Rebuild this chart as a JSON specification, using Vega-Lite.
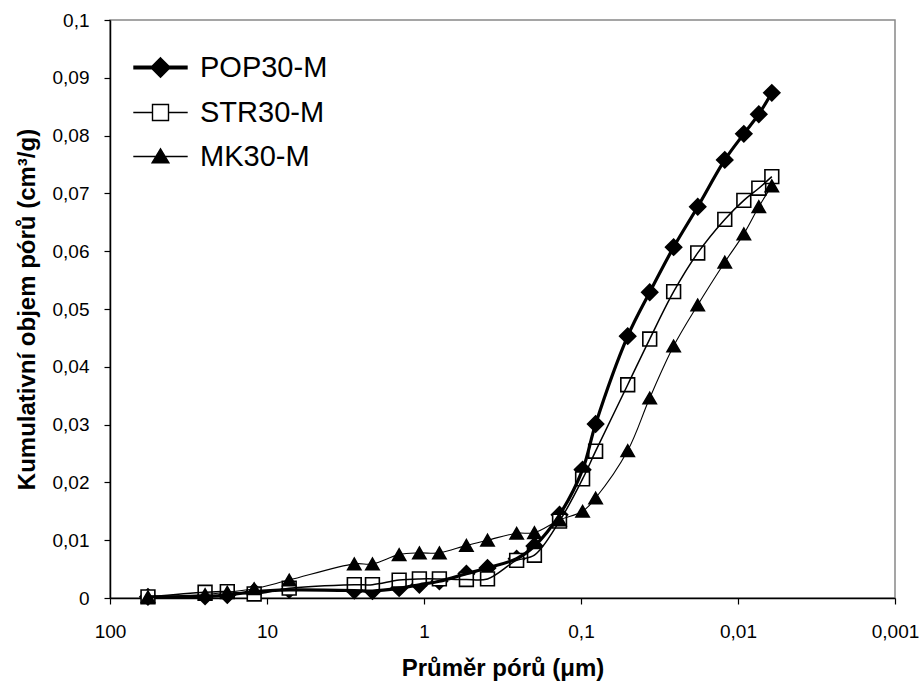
{
  "$schema": "https://vega.github.io/schema/vega-lite/v6.json",
  "width": 785,
  "height": 578,
  "autosize": "none",
  "padding": {"left": 110, "top": 20, "right": 27, "bottom": 91},
  "background": "white",
  "config": {
    "view": {"stroke": "#888888", "strokeWidth": 1.5},
    "font": "Liberation Sans",
    "axis": {"domainColor": "black", "tickColor": "black", "labelColor": "black", "titleColor": "black", "grid": false, "domainWidth": 1.5, "tickWidth": 1.2, "labelFont": "Liberation Sans", "titleFont": "Liberation Sans"}
  },
  "data": {"values": [
    {"series": "POP30-M", "d": 57.3, "v": 0.0002},
    {"series": "POP30-M", "d": 24.8, "v": 0.0003},
    {"series": "POP30-M", "d": 17.9, "v": 0.0005},
    {"series": "POP30-M", "d": 12.07, "v": 0.0011},
    {"series": "POP30-M", "d": 7.22, "v": 0.0014},
    {"series": "POP30-M", "d": 2.78, "v": 0.0013},
    {"series": "POP30-M", "d": 2.13, "v": 0.0012},
    {"series": "POP30-M", "d": 1.44, "v": 0.0017},
    {"series": "POP30-M", "d": 1.07, "v": 0.0023},
    {"series": "POP30-M", "d": 0.798, "v": 0.0029},
    {"series": "POP30-M", "d": 0.537, "v": 0.0042},
    {"series": "POP30-M", "d": 0.394, "v": 0.0052},
    {"series": "POP30-M", "d": 0.257, "v": 0.0068},
    {"series": "POP30-M", "d": 0.198, "v": 0.009},
    {"series": "POP30-M", "d": 0.137, "v": 0.0144},
    {"series": "POP30-M", "d": 0.0977, "v": 0.0222},
    {"series": "POP30-M", "d": 0.0807, "v": 0.0301},
    {"series": "POP30-M", "d": 0.0504, "v": 0.0453},
    {"series": "POP30-M", "d": 0.0365, "v": 0.0529},
    {"series": "POP30-M", "d": 0.0257, "v": 0.0607},
    {"series": "POP30-M", "d": 0.01805, "v": 0.0677},
    {"series": "POP30-M", "d": 0.01214, "v": 0.0758},
    {"series": "POP30-M", "d": 0.00918, "v": 0.0803},
    {"series": "POP30-M", "d": 0.00737, "v": 0.0837},
    {"series": "POP30-M", "d": 0.00609, "v": 0.0874},
    {"series": "STR30-M", "d": 57.3, "v": 0.0002},
    {"series": "STR30-M", "d": 24.8, "v": 0.001},
    {"series": "STR30-M", "d": 17.9, "v": 0.0011},
    {"series": "STR30-M", "d": 12.07, "v": 0.0007},
    {"series": "STR30-M", "d": 7.22, "v": 0.0017},
    {"series": "STR30-M", "d": 2.78, "v": 0.0023},
    {"series": "STR30-M", "d": 2.13, "v": 0.0023},
    {"series": "STR30-M", "d": 1.44, "v": 0.0031},
    {"series": "STR30-M", "d": 1.07, "v": 0.0033},
    {"series": "STR30-M", "d": 0.798, "v": 0.0033},
    {"series": "STR30-M", "d": 0.537, "v": 0.0032},
    {"series": "STR30-M", "d": 0.394, "v": 0.0033},
    {"series": "STR30-M", "d": 0.257, "v": 0.0065},
    {"series": "STR30-M", "d": 0.198, "v": 0.0074},
    {"series": "STR30-M", "d": 0.137, "v": 0.0133},
    {"series": "STR30-M", "d": 0.0977, "v": 0.0206},
    {"series": "STR30-M", "d": 0.0807, "v": 0.0254},
    {"series": "STR30-M", "d": 0.0504, "v": 0.0369},
    {"series": "STR30-M", "d": 0.0365, "v": 0.0448},
    {"series": "STR30-M", "d": 0.0257, "v": 0.053},
    {"series": "STR30-M", "d": 0.01805, "v": 0.0597},
    {"series": "STR30-M", "d": 0.01214, "v": 0.0655},
    {"series": "STR30-M", "d": 0.00918, "v": 0.0688},
    {"series": "STR30-M", "d": 0.00737, "v": 0.0709},
    {"series": "STR30-M", "d": 0.00609, "v": 0.0729},
    {"series": "MK30-M", "d": 57.3, "v": 0.0002},
    {"series": "MK30-M", "d": 24.8, "v": 0.0006},
    {"series": "MK30-M", "d": 17.9, "v": 0.001},
    {"series": "MK30-M", "d": 12.07, "v": 0.0016},
    {"series": "MK30-M", "d": 7.22, "v": 0.0031},
    {"series": "MK30-M", "d": 2.78, "v": 0.0059},
    {"series": "MK30-M", "d": 2.13, "v": 0.0059},
    {"series": "MK30-M", "d": 1.44, "v": 0.0075},
    {"series": "MK30-M", "d": 1.07, "v": 0.0078},
    {"series": "MK30-M", "d": 0.798, "v": 0.0078},
    {"series": "MK30-M", "d": 0.537, "v": 0.0091},
    {"series": "MK30-M", "d": 0.394, "v": 0.01},
    {"series": "MK30-M", "d": 0.257, "v": 0.0112},
    {"series": "MK30-M", "d": 0.198, "v": 0.0113},
    {"series": "MK30-M", "d": 0.137, "v": 0.0135},
    {"series": "MK30-M", "d": 0.0977, "v": 0.015},
    {"series": "MK30-M", "d": 0.0807, "v": 0.0173},
    {"series": "MK30-M", "d": 0.0504, "v": 0.0255},
    {"series": "MK30-M", "d": 0.0365, "v": 0.0346},
    {"series": "MK30-M", "d": 0.0257, "v": 0.0436},
    {"series": "MK30-M", "d": 0.01805, "v": 0.0507},
    {"series": "MK30-M", "d": 0.01214, "v": 0.0581},
    {"series": "MK30-M", "d": 0.00918, "v": 0.063},
    {"series": "MK30-M", "d": 0.00737, "v": 0.0677},
    {"series": "MK30-M", "d": 0.00609, "v": 0.0713}
  ]},
  "encoding": {
    "x": {
      "field": "d", "type": "quantitative",
      "scale": {"type": "log", "domain": [0.001, 100], "reverse": true, "nice": false},
      "axis": {
        "values": [100, 10, 1, 0.1, 0.01, 0.001],
        "labelExpr": "replace(format(datum.value, '~g'), '.', ',')",
        "labelFontSize": 19, "labelPadding": 18, "tickSize": 6, "labelFlush": false, "labelOverlap": false,
        "title": "Průměr pórů (μm)", "titleFontSize": 24, "titleFontWeight": "bold", "titlePadding": 15
      }
    },
    "y": {
      "field": "v", "type": "quantitative",
      "scale": {"domain": [0, 0.1], "nice": false},
      "axis": {
        "values": [0, 0.01, 0.02, 0.03, 0.04, 0.05, 0.06, 0.07, 0.08, 0.09, 0.1],
        "labelExpr": "replace(format(datum.value, '.2~f'), '.', ',')",
        "labelFontSize": 19, "labelPadding": 15, "tickSize": 6, "labelFlush": false, "labelOverlap": false,
        "title": "Kumulativní objem pórů (cm³/g)", "titleFontSize": 24, "titleFontWeight": "bold", "titlePadding": 13
      }
    }
  },
  "resolve": {"scale": {"shape": "independent"}, "legend": {"shape": "independent"}},
  "layer": [
    {
      "mark": {"type": "point", "opacity": 1, "stroke": "black", "strokeWidth": 1.6},
      "encoding": {
        "shape": {
          "field": "series", "type": "nominal",
          "scale": {"domain": ["POP30-M", "STR30-M", "MK30-M"], "range": ["diamond", "square", "triangle-up"]},
          "legend": null
        },
        "fill": {"condition": {"test": "datum.series === 'STR30-M'", "value": "white"}, "value": "black"},
        "size": {"condition": [{"test": "datum.series === 'POP30-M'", "value": 260}, {"test": "datum.series === 'STR30-M'", "value": 190}], "value": 175}
      }
    },
    {
      "mark": {"type": "line", "interpolate": "catmull-rom", "color": "black"},
      "encoding": {
        "detail": {"field": "series", "type": "nominal"},
        "strokeWidth": {"condition": [{"test": "datum.series === 'POP30-M'", "value": 3.2}, {"test": "datum.series === 'STR30-M'", "value": 1.5}], "value": 1.1}
      }
    },
    {
      "mark": {"type": "point", "opacity": 0, "stroke": "black", "size": 256},
      "encoding": {
        "shape": {
          "field": "series", "type": "nominal",
          "scale": {"domain": ["POP30-M", "STR30-M", "MK30-M"], "range": ["M-3.4,0H3.4M0,-1L1,0L0,1L-1,0Z", "M-3.4,0H-1M1,0H3.4M-1,-1H1V1H-1Z", "M-3.4,0H3.4M0,-0.95L1.05,0.8H-1.05Z"]},
          "legend": {
            "title": null, "orient": "none", "legendX": 36, "legendY": 33, "padding": 0,
            "symbolSize": 256, "symbolOffset": 0, "labelFontSize": 29, "labelFont": "Liberation Sans", "labelColor": "black",
            "labelOffset": 25, "rowPadding": 14,
            "encoding": {"symbols": {
              "fill": {"value": {"expr": "datum.value === 'STR30-M' ? 'white' : 'black'"}},
              "stroke": {"value": "black"},
              "strokeWidth": {"value": {"expr": "datum.value === 'POP30-M' ? 3.8 : 1.4"}},
              "opacity": {"value": 1},
              "size": {"value": 256}
            }}
          }
        }
      }
    }
  ]
}
